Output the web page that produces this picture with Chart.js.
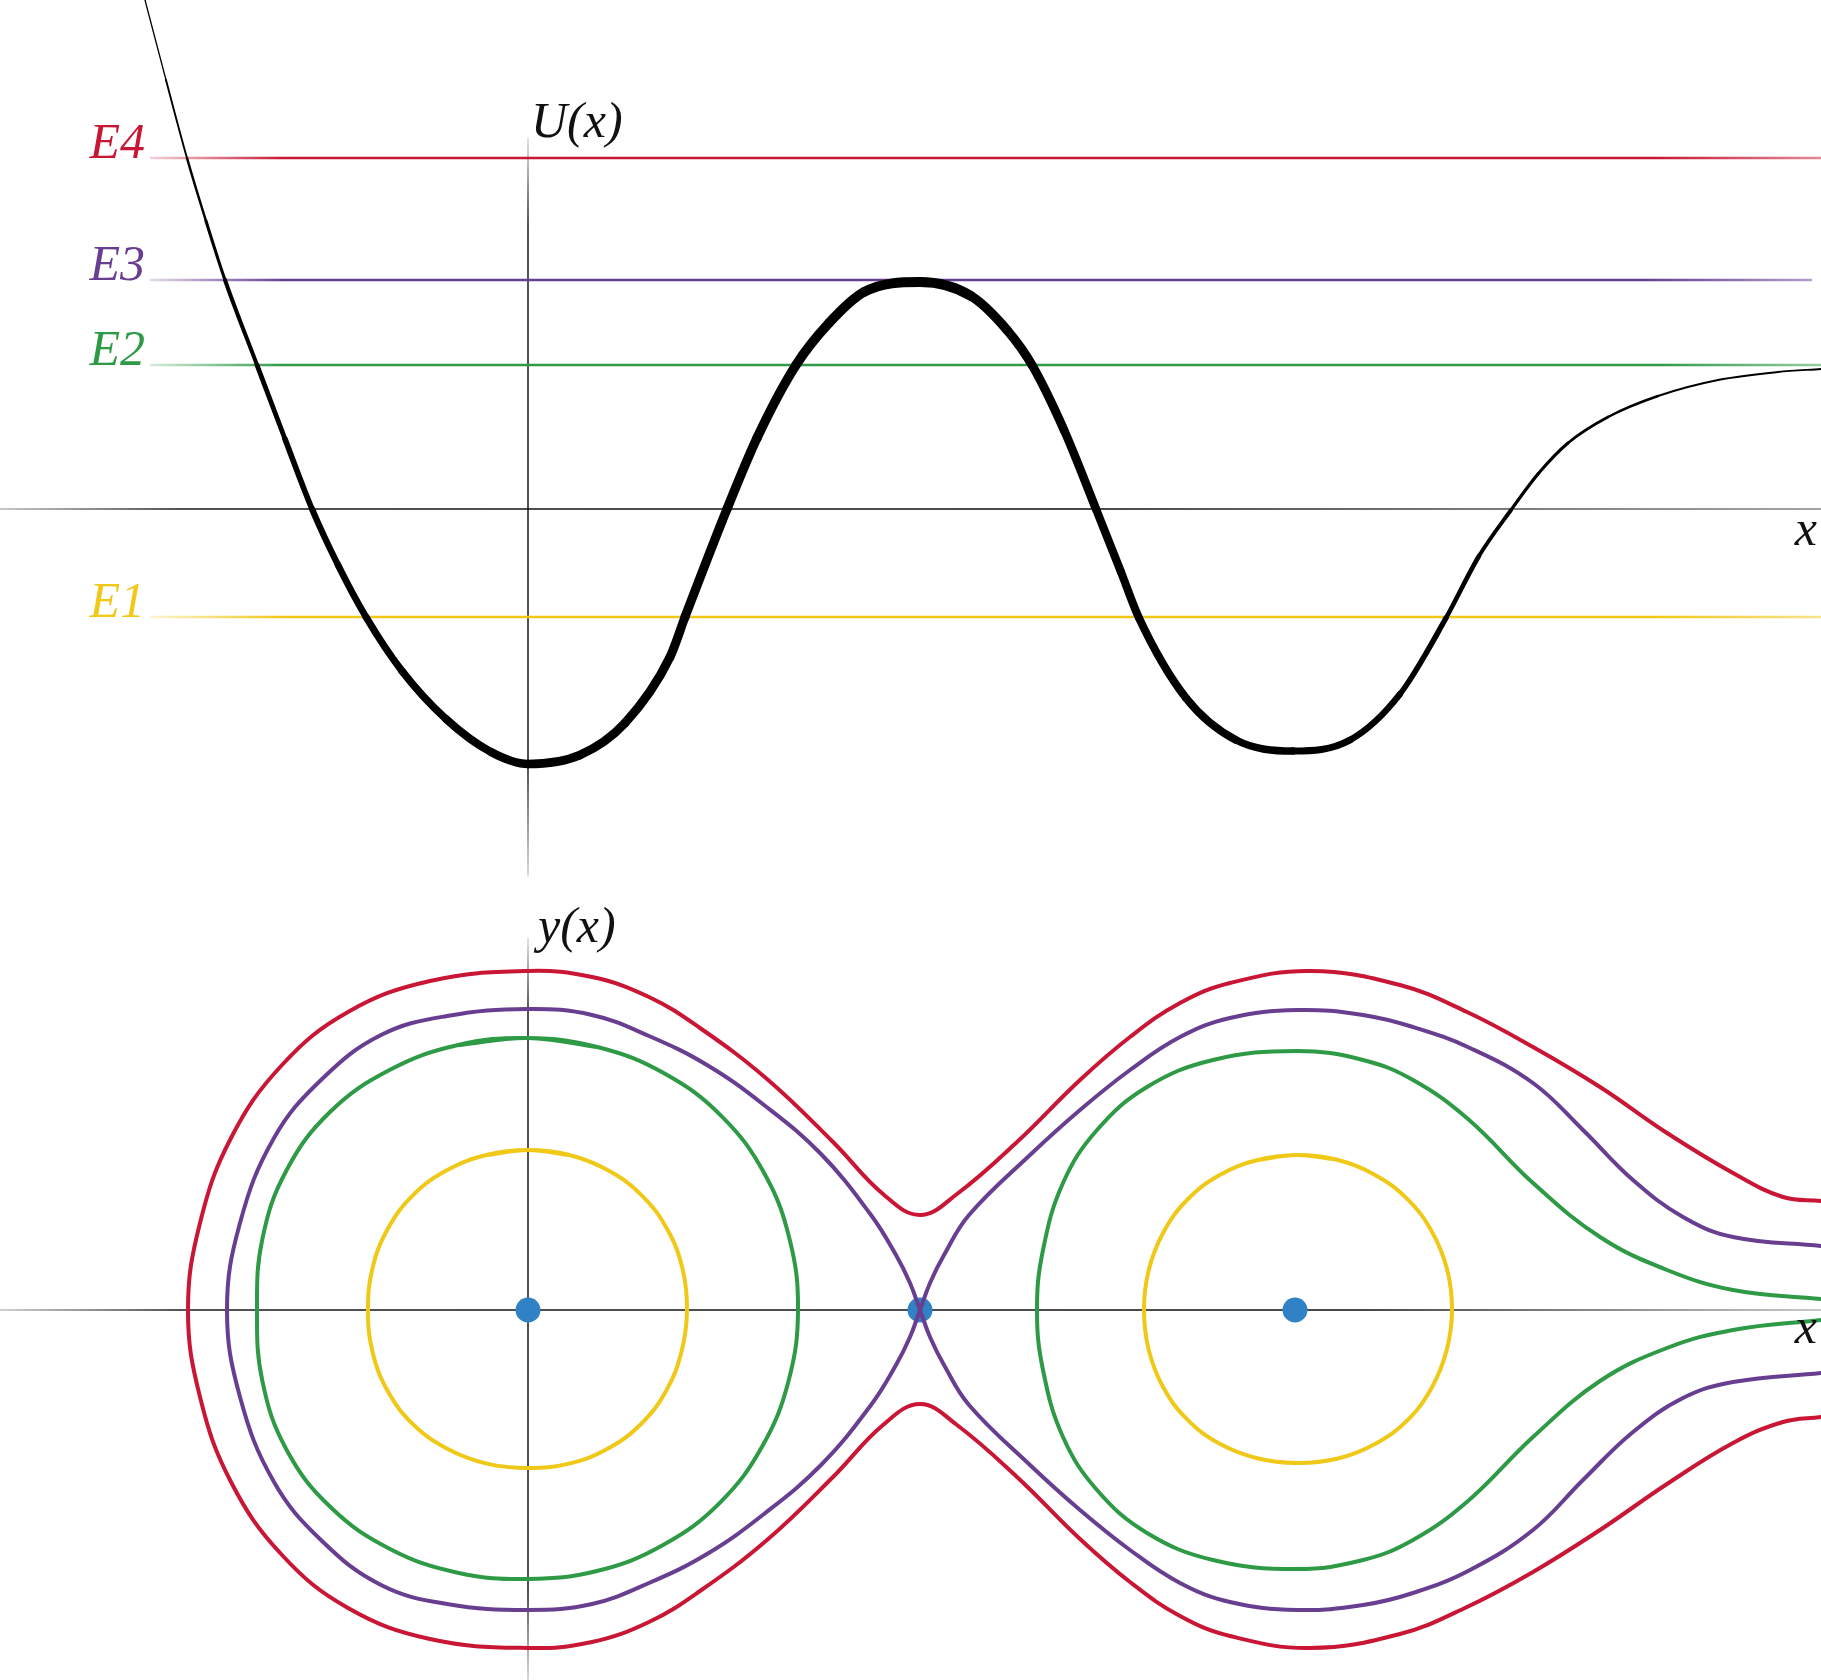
<!DOCTYPE html>
<html>
<head>
<meta charset="utf-8">
<title>Potential U(x) and phase portrait</title>
<script src="https://cdn.jsdelivr.net/npm/chart.js@4.4.1/dist/chart.umd.min.js"></script>
<style>
    html, body { margin: 0; padding: 0; background: #fff; }
    .panel { position: relative; width: 1821px; }
    .panel canvas { display: block; }
    #potential { height: 880px; }
    #phase { height: 800px; }
</style>
</head>
<body>
<div class="panel" id="potential"></div>
<div class="panel" id="phase"></div>
<script>
// values (x in the same units for both panels)
const potential = [
    [-3.83, 5.09], [-3.62, 4.29], [-3.41, 3.51], [-3.22, 2.88], [-3.03, 2.29], [-2.71, 1.44],
    [-2.43, 0.70], [-2.16, 0], [-1.90, -0.56], [-1.62, -1.08], [-1.26, -1.62], [-0.82, -2.10],
    [-0.37, -2.43], [0, -2.55], [0.52, -2.46], [0.97, -2.14], [1.42, -1.48], [1.57, -1.08],
    [1.99, 0], [2.29, 0.71], [2.68, 1.44], [3.01, 1.86], [3.36, 2.17], [3.92, 2.27],
    [4.43, 2.13], [4.79, 1.79], [5.04, 1.44], [5.36, 0.79], [5.68, 0], [5.93, -0.63],
    [6.11, -1.09], [6.58, -1.89], [7.08, -2.31], [7.65, -2.42], [8.22, -2.31], [8.72, -1.85],
    [9.18, -1.09], [9.51, -0.47], [9.83, -0.01], [10.10, 0.35], [10.40, 0.66], [10.80, 0.92],
    [11.30, 1.13], [11.90, 1.29], [12.50, 1.37], [12.93, 1.40]
];
const levelNames = ['E1', 'E2', 'E3', 'E4'];
const levelValues = [-1.08, 1.44, 2.29, 3.51];
const levelStart = -3.77;
const levelEnds = [12.93, 12.93, 12.83, 12.93];

const fixedPoints = [[0, 0], [3.92, 0], [7.67, 0]];

// closed orbits (first point repeated at the end)
const yellowLeft = [
    [0, 1.60], [0.415, 1.550], [0.805, 1.394], [1.142, 1.142], [1.394, 0.805], [1.545, 0.414],
    [1.59, 0], [1.536, -0.412], [1.386, -0.80], [1.135, -1.135], [0.80, -1.386], [0.412, -1.536],
    [0, -1.58], [-0.412, -1.536], [-0.803, -1.390], [-1.146, -1.146], [-1.403, -0.81], [-1.555, -0.417],
    [-1.60, 0], [-1.555, 0.417], [-1.403, 0.81], [-1.149, 1.149], [-0.808, 1.399], [-0.415, 1.550],
    [0, 1.60]
];
const yellowRight = [
    [7.69, 1.55], [8.092, 1.502], [8.47, 1.351], [8.797, 1.107], [9.041, 0.78], [9.192, 0.402],
    [9.24, 0], [9.187, -0.401], [9.037, -0.778], [8.793, -1.103], [8.465, -1.342], [8.089, -1.488],
    [7.69, -1.53], [7.293, -1.483], [6.918, -1.338], [6.594, -1.096], [6.352, -0.773], [6.207, -0.397],
    [6.16, 0], [6.207, 0.397], [6.352, 0.773], [6.59, 1.10], [6.912, 1.347], [7.289, 1.497],
    [7.69, 1.55]
];
const greenLeft = [
    [0, 2.72], [0.704, 2.627], [1.365, 2.364], [1.937, 1.937], [2.364, 1.365], [2.618, 0.701],
    [2.70, 0], [2.608, -0.699], [2.347, -1.355], [1.923, -1.923], [1.355, -2.347], [0.699, -2.608],
    [0, -2.69], [-0.704, -2.627], [-1.38, -2.39], [-1.973, -1.973], [-2.416, -1.395], [-2.656, -0.712],
    [-2.71, 0], [-2.656, 0.712], [-2.416, 1.395], [-1.98, 1.98], [-1.385, 2.399], [-0.709, 2.647],
    [0, 2.72]
];

// open orbits, traced from the right edge round and back to it
const greenRight = [
    [12.93, 0.11], [12.05, 0.20], [11.39, 0.40], [10.72, 0.73], [10.05, 1.27], [9.40, 1.91],
    [8.85, 2.30], [8.35, 2.50], [7.69, 2.59], [6.85, 2.50], [6.19, 2.23], [5.69, 1.80],
    [5.35, 1.27], [5.15, 0.60], [5.09, 0], [5.15, -0.60], [5.35, -1.27], [5.69, -1.80],
    [6.19, -2.23], [6.85, -2.50], [7.69, -2.59], [8.35, -2.50], [8.85, -2.30], [9.40, -1.91],
    [10.05, -1.27], [10.72, -0.71], [11.39, -0.38], [12.05, -0.20], [12.93, -0.10]
];
const purpleLowerRight = [
    [12.93, -0.63], [12.05, -0.72], [11.55, -0.88], [11.05, -1.22], [10.55, -1.70], [10.05, -2.20],
    [9.42, -2.60], [8.85, -2.83], [8.35, -2.95], [7.69, -3.00], [7.02, -2.92], [6.52, -2.73],
    [6.02, -2.40], [5.52, -2.00], [5.02, -1.55], [4.41, -0.95], [4.16, -0.55], [4.02, -0.27]
];
const purpleLeft = [
    [3.92, 0], [3.82, 0.27], [3.68, 0.55], [3.43, 0.95], [2.93, 1.56], [2.36, 2.05], [1.79, 2.45],
    [1.21, 2.74], [0.64, 2.95], [0, 3.01], [-0.81, 2.94], [-1.47, 2.75], [-2.06, 2.31],
    [-2.54, 1.72], [-2.88, 0.87], [-3.01, 0], [-2.88, -0.87], [-2.54, -1.72], [-2.06, -2.31],
    [-1.47, -2.75], [-0.81, -2.94], [0, -3.00], [0.64, -2.94], [1.21, -2.73], [1.79, -2.44],
    [2.36, -2.04], [2.93, -1.55], [3.43, -0.95], [3.68, -0.55], [3.82, -0.27], [3.92, 0]
];
const purpleUpperRight = [
    [4.02, 0.27], [4.16, 0.55], [4.41, 0.95], [5.02, 1.55], [5.52, 2.00], [6.02, 2.40], [6.52, 2.73],
    [7.02, 2.92], [7.69, 3.00], [8.35, 2.95], [8.85, 2.83], [9.42, 2.62], [10.05, 2.27],
    [10.55, 1.80], [11.05, 1.30], [11.55, 0.93], [12.05, 0.73], [12.93, 0.64]
];
const redUpper = [
    [12.93, 1.09], [12.55, 1.13], [12.05, 1.37], [11.39, 1.77], [10.72, 2.23], [10.05, 2.63],
    [9.39, 2.98], [8.72, 3.25], [7.82, 3.39], [7.02, 3.27], [6.52, 3.07], [6.02, 2.73],
    [5.52, 2.30], [4.89, 1.68], [4.29, 1.16], [3.92, 0.95], [3.55, 1.16], [3.05, 1.68],
    [2.39, 2.31], [1.72, 2.82], [1.21, 3.13], [0.64, 3.33], [0, 3.39], [-0.98, 3.29],
    [-1.80, 2.98], [-2.46, 2.45], [-2.97, 1.72], [-3.28, 0.87], [-3.40, 0]
];
const redLower = [
    [-3.28, -0.87], [-2.97, -1.72], [-2.46, -2.45], [-1.80, -2.98], [-0.98, -3.29], [0, -3.38],
    [0.64, -3.32], [1.21, -3.12], [1.72, -2.81], [2.39, -2.30], [3.05, -1.67], [3.55, -1.15],
    [3.92, -0.94], [4.29, -1.15], [4.89, -1.67], [5.52, -2.29], [6.02, -2.72], [6.52, -3.06],
    [7.02, -3.26], [7.82, -3.38], [8.72, -3.24], [9.39, -2.97], [10.05, -2.62], [10.72, -2.20],
    [11.39, -1.74], [12.05, -1.33], [12.55, -1.12], [12.93, -1.07]
];

// view windows
const X_MIN = -5.28, X_MAX = 12.93;
const TOP_Y = [-3.71, 5.09];
const BOTTOM_Y = [-3.70, 4.30];

const INK = [12, 12, 12];
const LEVEL_COLORS = [[240, 200, 24], [46, 154, 70], [104, 62, 145], [200, 22, 52]];
const DOT_COLOR = 'rgb(48, 130, 196)';
const FONT = 'italic 50px "Liberation Serif", "DejaVu Serif", serif';

// stroke width of U(x) along x (the curve tapers towards both ends)
const uWidthProfile = [
    [-3.83, 1], [-3.41, 2.2], [-2.71, 4.5], [-2.16, 6], [-1.26, 7.5], [0, 8.5], [1.5, 9],
    [3.92, 10], [5.04, 9], [6.11, 8], [7.65, 7.5], [8.72, 6], [9.83, 3.5], [10.80, 2.5], [12.93, 1.8]
];

let rgba = (rgb, a) => 'rgba(' + rgb.join(',') + ',' + a + ')';
let toPoints = (arr) => arr.map(p => ({ x: p[0], y: p[1] }));

// a closed orbit gets one extra point on each end so the spline has no corner where it meets itself
let wrapLoop = (arr) => [arr[arr.length - 2]].concat(arr, [arr[1]]);

let widthAt = function(x) {
    let prof = uWidthProfile;
    if (x <= prof[0][0]) return prof[0][1];
    for (let i = 1; i < prof.length; i++) {
        if (x <= prof[i][0]) {
            let t = (x - prof[i - 1][0]) / (prof[i][0] - prof[i - 1][0]);
            return prof[i - 1][1] + t * (prof[i][1] - prof[i - 1][1]);
        }
    }
    return prof[prof.length - 1][1];
};

// gradient running from the first to the last point of a dataset
let fadeAlong = function(rgb, stops) {
    return function(ctx) {
        let chart = ctx.chart;
        if (!chart.chartArea) return rgba(rgb, 1);
        let d = ctx.dataset.data;
        let xs = chart.scales.x, ys = chart.scales.y;
        let g = chart.ctx.createLinearGradient(
            xs.getPixelForValue(d[0].x), ys.getPixelForValue(d[0].y),
            xs.getPixelForValue(d[d.length - 1].x), ys.getPixelForValue(d[d.length - 1].y));
        stops.forEach(s => g.addColorStop(s[0], rgba(rgb, s[1])));
        return g;
    };
};

let axisLine = function(from, to, stops) {
    return {
        data: toPoints([from, to]),
        borderWidth: 1.5,
        borderColor: fadeAlong(INK, stops),
        pointRadius: 0,
        order: 10
    };
};

let curve = function(points, rgb) {
    return {
        data: toPoints(points),
        borderColor: rgba(rgb, 1),
        borderWidth: 4,
        tension: 0.4,
        smooth: 0.4,
        pointRadius: 0,
        order: 1
    };
};

// set cardinal-spline control points (pixel space) on every dataset flagged
// with `smooth`, and make sure the line element draws them as curves
let splinePlugin = {
    id: 'spline',
    beforeDatasetsDraw(chart) {
        chart.getSortedVisibleDatasetMetas().forEach(meta => {
            let t = chart.data.datasets[meta.index].smooth;
            let line = meta.dataset;
            if (!t || !line) return;
            let pts = meta.data, n = pts.length;
            for (let i = 0; i < n; i++) {
                let p = pts[Math.max(i - 1, 0)], c = pts[i], q = pts[Math.min(i + 1, n - 1)];
                let d01 = Math.hypot(c.x - p.x, c.y - p.y);
                let d12 = Math.hypot(q.x - c.x, q.y - c.y);
                let sum = (d01 + d12) || 1;
                let fa = t * d01 / sum, fb = t * d12 / sum;
                c.cp1x = c.x - fa * (q.x - p.x);
                c.cp1y = c.y - fa * (q.y - p.y);
                c.cp2x = c.x + fb * (q.x - p.x);
                c.cp2y = c.y + fb * (q.y - p.y);
            }
            line.options.tension = t;
            line._pointsUpdated = true;
            line._path = undefined;
        });
    }
};

let textPlugin = function(items) {
    return {
        id: 'texts',
        afterDatasetsDraw(chart) {
            let ctx = chart.ctx;
            ctx.save();
            ctx.font = FONT;
            ctx.textBaseline = 'alphabetic';
            items.forEach(t => {
                ctx.fillStyle = t.color;
                ctx.textAlign = t.align;
                ctx.fillText(t.text,
                    chart.scales.x.getPixelForValue(t.x) + t.dx,
                    chart.scales.y.getPixelForValue(t.y));
            });
            ctx.restore();
        }
    };
};

let makeChart = function(el, yRange, datasets, labels) {
    let canvas = document.createElement('canvas');
    canvas.setAttribute('width', el.clientWidth);
    canvas.setAttribute('height', el.clientHeight);
    el.appendChild(canvas);

    return new Chart(canvas.getContext('2d'), {
        type: 'line',
        data: { datasets: datasets },
        options: {
            responsive: false,
            animation: false,
            devicePixelRatio: 1,
            events: [],
            // no auto padding: the plot area must span the whole canvas
            layout: { padding: 0, autoPadding: false },
            plugins: { legend: { display: false }, tooltip: { enabled: false } },
            elements: {
                point: { radius: 0, hoverRadius: 0 },
                line: { borderCapStyle: 'round', borderJoinStyle: 'round', fill: false }
            },
            scales: {
                x: { type: 'linear', min: X_MIN, max: X_MAX, display: false },
                y: { type: 'linear', min: yRange[0], max: yRange[1], display: false }
            }
        },
        plugins: [splinePlugin, textPlugin(labels)]
    });
};

// top panel: U(x) with the four energy levels
let topSets = [
    axisLine([X_MIN, 0], [X_MAX, 0], [[0, 0.3], [0.1, 0.95], [0.6, 1], [1, 0.5]]),
    axisLine([0, 3.71], [0, -3.67], [[0, 0.15], [0.12, 0.95], [0.85, 0.95], [1, 0.2]])
];
levelValues.forEach((v, i) => {
    topSets.push({
        data: toPoints([[levelStart, v], [levelEnds[i], v]]),
        borderWidth: 2.5,
        borderColor: fadeAlong(LEVEL_COLORS[i], [[0, 0.2], [0.08, 1], [0.9, 1], [1, 0.5]]),
        pointRadius: 0,
        order: 5
    });
});
topSets.push({
    data: toPoints(potential),
    borderColor: '#000',
    borderWidth: 8,
    cubicInterpolationMode: 'monotone',
    pointRadius: 0,
    order: 1,
    segment: {
        borderWidth: c => widthAt((potential[c.p0DataIndex][0] + potential[c.p1DataIndex][0]) / 2)
    }
});

let topLabels = levelNames.map((name, i) => ({
    text: name, x: levelStart, y: levelValues[i], dx: -6, align: 'right', color: rgba(LEVEL_COLORS[i], 1)
}));
topLabels.push({ text: 'U(x)', x: 0, y: 3.72, dx: 3, align: 'left', color: '#111' });
topLabels.push({ text: 'x', x: X_MAX, y: -0.36, dx: -4, align: 'right', color: '#111' });

makeChart(document.getElementById('potential'), TOP_Y, topSets, topLabels);

// bottom panel: phase portrait y(x)
let bottomSets = [
    axisLine([X_MIN, 0], [X_MAX, 0], [[0, 0.25], [0.1, 0.95], [0.75, 1], [1, 0.3]]),
    axisLine([0, 3.72], [0, -3.70], [[0, 0.15], [0.1, 0.95], [0.88, 0.95], [1, 0.2]]),
    {
        data: toPoints(fixedPoints),
        showLine: false,
        pointRadius: 12.5,
        pointBackgroundColor: DOT_COLOR,
        pointBorderWidth: 0,
        order: 5
    },
    curve(wrapLoop(yellowLeft), LEVEL_COLORS[0]),
    curve(wrapLoop(yellowRight), LEVEL_COLORS[0]),
    curve(wrapLoop(greenLeft), LEVEL_COLORS[1]),
    curve(greenRight, LEVEL_COLORS[1]),
    curve(purpleLowerRight.concat(purpleLeft, purpleUpperRight), LEVEL_COLORS[2]),
    curve(redUpper.concat(redLower), LEVEL_COLORS[3])
];
let bottomLabels = [
    { text: 'y(x)', x: 0, y: 3.68, dx: 10, align: 'left', color: '#111' },
    { text: 'x', x: X_MAX, y: -0.33, dx: -4, align: 'right', color: '#111' }
];

makeChart(document.getElementById('phase'), BOTTOM_Y, bottomSets, bottomLabels);
</script>
</body>
</html>
